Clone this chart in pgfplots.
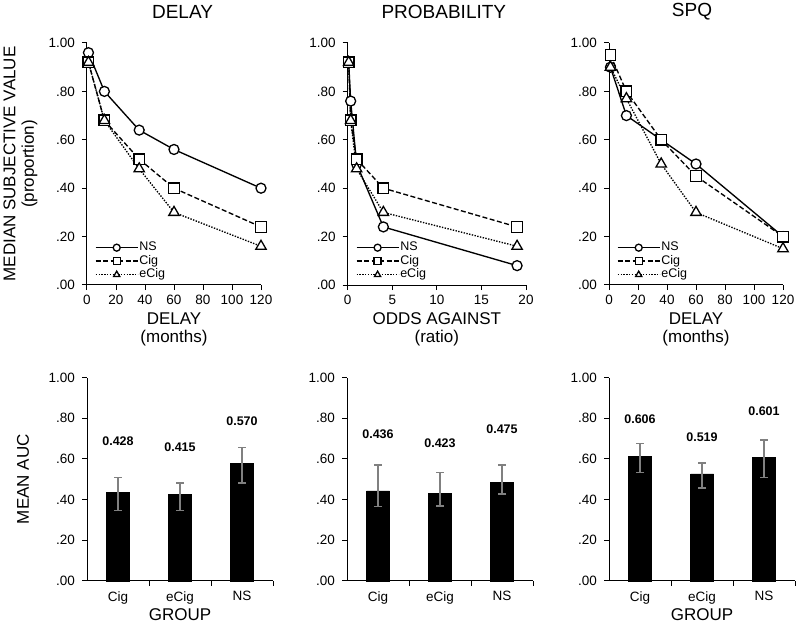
\documentclass[border=0pt]{standalone}
\usepackage{fontspec}
\setmainfont{Liberation Sans}
\usepackage{pgfplots}
\pgfplotsset{compat=1.18}
\definecolor{errgray}{RGB}{128,128,128}
\pgfplotsset{
  base/.style={
    scale only axis, clip=false,
    axis lines=left, axis line style={-, line width=1pt},
    tick align=outside, major tick length=5pt,
    tick style={black, line width=1pt},
    ymin=0, ymax=1,
    ytick={0,0.2,0.4,0.6,0.8,1},
    yticklabels={.00,.20,.40,.60,.80,1.00},
    /pgf/number format/assume math mode=true,
    ticklabel style={font=\fontsize{13.5}{13.5}\selectfont},
    yticklabel style={xshift=-3.5pt},
    xticklabel style={yshift=-2pt},
    label style={font=\fontsize{17}{18.5}\selectfont, align=center, inner sep=0pt},
    xlabel style={at={(axis description cs:0.5,0)}, anchor=north, yshift=-27.3pt},
    every axis title shift=0pt,
    title style={font=\fontsize{19}{20}\selectfont, at={(axis description cs:0.5,1)}, anchor=center, yshift=31.5pt},
  },
  top/.style={base, height=242pt,
    legend style={draw=none, fill=none, at={(axis description cs:0.045,0.015)}, anchor=south west,
      font=\fontsize{12.5}{12.5}\selectfont, inner sep=0pt, row sep=0.5pt,
      nodes={inner sep=1pt, text height=8.5pt, text depth=2.5pt}},
    legend cell align=left,
    legend image code/.code={\draw[mark repeat=2, mark phase=2, ##1, mark size=3.5pt] plot coordinates {(0pt,0pt) (21pt,0pt) (42pt,0pt)};},
  },
  bars/.style={base, height=203pt, width=186pt, xmin=-0.5, xmax=2.5,
    xtick={0.5,1.5,2.5}, xticklabels={},
    extra x ticks={0,1,2}, extra x tick labels={Cig,eCig,NS},
    extra x tick style={tick style={draw=none}},
  },
  ns/.style={black, line width=1.35pt, solid, mark=*, mark size=5pt, mark options={solid, fill=white, draw=black, line width=1.3pt}},
  cig/.style={black, line width=1.35pt, dash pattern=on 5pt off 2.5pt, mark=square*, mark size=5.3pt, mark options={solid, fill=white, draw=black, line width=1.3pt}},
  ecig/.style={black, line width=1.35pt, dash pattern=on 1.4pt off 1.4pt, mark=triangle*, mark size=6pt, mark options={solid, fill=white, draw=black, line width=1.3pt}},
  barplot/.style={ybar, bar width=23pt, fill=black, draw=black,
    error bars/.cd, y dir=both, y explicit,
    error bar style={errgray, line width=1.3pt, solid},
    error mark options={rotate=90, errgray, mark size=4pt, line width=1.3pt}},
  vlab/.style={draw=none, mark=none, nodes near coords, point meta=explicit symbolic,
    every node near coord/.append style={anchor=center, font=\fontsize{12.5}{12.5}\selectfont\bfseries}},
}
\begin{document}
\begin{tikzpicture}
\useasboundingbox (0,0) rectangle (798pt,-628pt);

% ---------- top row ----------
\begin{axis}[top, at={(87pt,-285pt)}, anchor=south west, width=174pt,
  xmin=0, xmax=120, xtick={0,20,40,60,80,100,120},
  title=DELAY, title style={xshift=8.5pt},
  xlabel={DELAY\\(months)},
  ylabel={MEDIAN SUBJECTIVE VALUE\\(proportion)},
  ylabel style={at={(axis description cs:-0.481,0.5)}, anchor=north}]
\addplot[ns] coordinates {(1,0.96) (12,0.80) (36,0.64) (60,0.56) (120,0.40)};
\addplot[cig] coordinates {(1,0.92) (12,0.68) (36,0.52) (60,0.40) (120,0.24)};
\addplot[ecig] coordinates {(1,0.92) (12,0.68) (36,0.48) (60,0.30) (120,0.16)};
\legend{NS,Cig,eCig}
\end{axis}

\begin{axis}[top, at={(347.7pt,-285pt)}, anchor=south west, width=178.3pt,
  xmin=0, xmax=20, xtick={0,5,10,15,20},
  title=PROBABILITY, title style={xshift=7pt},
  xlabel={ODDS AGAINST\\(ratio)}]
\addplot[ns] coordinates {(0.111,0.92) (0.333,0.76) (1,0.50) (4,0.24) (19,0.08)};
\addplot[cig] coordinates {(0.111,0.92) (0.333,0.68) (1,0.52) (4,0.40) (19,0.24)};
\addplot[ecig] coordinates {(0.111,0.92) (0.333,0.68) (1,0.48) (4,0.30) (19,0.16)};
\legend{NS,Cig,eCig}
\end{axis}

\begin{axis}[top, at={(609pt,-285pt)}, anchor=south west, width=174pt,
  xmin=0, xmax=120, xtick={0,20,40,60,80,100,120},
  title=SPQ, title style={xshift=-4pt},
  xlabel={DELAY\\(months)}]
\addplot[ns] coordinates {(1,0.90) (12,0.70) (36,0.60) (60,0.50) (120,0.20)};
\addplot[cig] coordinates {(1,0.95) (12,0.80) (36,0.60) (60,0.45) (120,0.20)};
\addplot[ecig] coordinates {(1,0.90) (12,0.77) (36,0.50) (60,0.30) (120,0.15)};
\legend{NS,Cig,eCig}
\end{axis}

% ---------- bottom row ----------
\begin{axis}[bars, at={(87pt,-580.7pt)}, anchor=south west,
  xlabel={GROUP},
  ylabel={MEAN AUC},
  ylabel style={at={(axis description cs:-0.378,0.5)}, anchor=north}]
\addplot[barplot] coordinates {
  (0,0.435) += (0,0.072) -= (0,0.088)
  (1,0.424) += (0,0.057) -= (0,0.077)
  (2,0.578) += (0,0.077) -= (0,0.097)};
\addplot[vlab] coordinates {(0,0.688)[0.428] (1,0.657)[0.415] (2,0.788)[0.570]};
\end{axis}

\begin{axis}[bars, at={(347pt,-580.7pt)}, anchor=south west]
\addplot[barplot] coordinates {
  (0,0.442) += (0,0.128) -= (0,0.077)
  (1,0.430) += (0,0.102) -= (0,0.062)
  (2,0.483) += (0,0.087) -= (0,0.056)};
\addplot[vlab] coordinates {(0,0.721)[0.436] (1,0.677)[0.423] (2,0.745)[0.475]};
\end{axis}

\begin{axis}[bars, at={(609pt,-580.7pt)}, anchor=south west,
  xlabel={GROUP}]
\addplot[barplot] coordinates {
  (0,0.614) += (0,0.063) -= (0,0.080)
  (1,0.526) += (0,0.054) -= (0,0.069)
  (2,0.608) += (0,0.085) -= (0,0.099)};
\addplot[vlab] coordinates {(0,0.795)[0.606] (1,0.709)[0.519] (2,0.833)[0.601]};
\end{axis}
\end{tikzpicture}
\end{document}
